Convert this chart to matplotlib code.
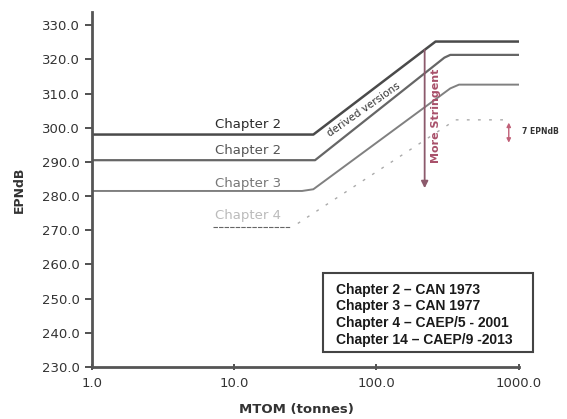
import numpy as np
import matplotlib.pyplot as plt
from matplotlib.patches import Rectangle

# lignes de certification (MTOM en tonnes, niveau cumulé en EPNdB)
mtom_ch2a = [1.0, 36.0, 260.0, 1000.0]
epn_ch2a = [298.0, 298.0, 325.2, 325.2]
mtom_ch2b = [1.0, 37.0, 300.0, 330.0, 1000.0]
epn_ch2b = [290.5, 290.5, 320.5, 321.3, 321.3]
mtom_ch3 = [1.0, 30.0, 36.0, 330.0, 380.0, 1000.0]
epn_ch3 = [281.5, 281.5, 282.0, 311.5, 312.6, 312.6]
mtom_ch4 = [28.0, 360.0, 810.0]
epn_ch4 = [272.0, 302.3, 302.3]

labels = ['Chapter 2', 'Chapter 2', 'Chapter 3', 'Chapter 4']
label_y = [300.8, 293.4, 283.8, 274.4]
label_col = ['#2a2a2a', '#555555', '#777777', '#bbbbbb']

legend_lines = ['Chapter 2 \u2013 CAN 1973',
                'Chapter 3 \u2013 CAN 1977',
                'Chapter 4 \u2013 CAEP/5 - 2001',
                'Chapter 14 \u2013 CAEP/9 -2013']

yticks = np.arange(230, 331, 10)
xticks = [1, 10, 100, 1000]

fig = plt.figure(figsize=(5.67, 4.19), dpi=100)
ax = fig.add_axes([0.162, 0.124, 0.753, 0.847])

ax.plot(mtom_ch2a, epn_ch2a, color='#4a4a4a', lw=1.8)
ax.plot(mtom_ch2b, epn_ch2b, color='#666666', lw=1.6)
ax.plot(mtom_ch3, epn_ch3, color='#808080', lw=1.4)
ax.plot(mtom_ch4, epn_ch4, color='#aaaaaa', lw=1.0, ls=(0, (2, 6)))

for lab, yy, c in zip(labels, label_y, label_col):
    ax.text(21.5, yy, lab, ha='right', va='center', fontsize=9.5, color=c)
ax.plot([7.1, 24.8], [271.0, 271.0], color='#666666', lw=0.8, ls=(0, (4, 1)))

ax.text(81, 305.3, 'derived versions', rotation=35, ha='center', va='center',
        fontsize=7.5, color='#333333')

# fleche "More Stringent"
ax.annotate('', xy=(218, 281.5), xytext=(218, 323.5),
            arrowprops=dict(arrowstyle='-|>', color='#8c5a6c', lw=1.3,
                            mutation_scale=10))
ax.text(262, 303.5, 'More Stringent', rotation=90, ha='center', va='center',
        fontsize=8, fontweight='bold', color='#a8506a')

# 7 EPNdB
ax.annotate('', xy=(850, 294.8), xytext=(850, 302.3),
            arrowprops=dict(arrowstyle='<|-|>', color='#c06078', lw=1.0,
                            mutation_scale=6))
ax.text(1060, 298.8, '7 EPNdB', fontsize=5.5, fontweight='bold',
        color='#333333', va='center', ha='left', clip_on=False)

ax.set_xscale('log')
ax.set_xlim(1, 1000)
ax.set_ylim(230, 333.8)
ax.set_yticks(yticks)
ax.set_yticklabels(['%.1f' % v for v in yticks])
ax.set_xticks(xticks)
ax.set_xticklabels(['1.0', '10.0', '100.0', '1000.0'])
ax.minorticks_off()
ax.tick_params(axis='both', labelsize=9.5, colors='#333333', width=1.2, length=5)
ax.tick_params(axis='x', direction='inout', pad=5)

for s in ['top', 'right']:
    ax.spines[s].set_visible(False)
for s in ['left', 'bottom']:
    ax.spines[s].set_color('#555555')
    ax.spines[s].set_linewidth(2)

ax.set_ylabel('EPNdB', fontsize=9, fontweight='bold', color='#333333', labelpad=12)
ax.set_xlabel('MTOM (tonnes)', fontsize=9.5, fontweight='bold', color='#333333',
              labelpad=9)
ax.xaxis.label.set_x(0.48)

# boite de legende
fig.patches.append(Rectangle((0.570, 0.160), 0.370, 0.189, transform=fig.transFigure,
                             fill=False, edgecolor='#444444', lw=1.5))
for i, t in enumerate(legend_lines):
    fig.text(0.593, 0.308 - i * 0.0395, t, fontsize=10, fontweight='bold',
             family='Liberation Sans', color='#1a1a1a', va='center')

fig.savefig('out.png', dpi=100)
